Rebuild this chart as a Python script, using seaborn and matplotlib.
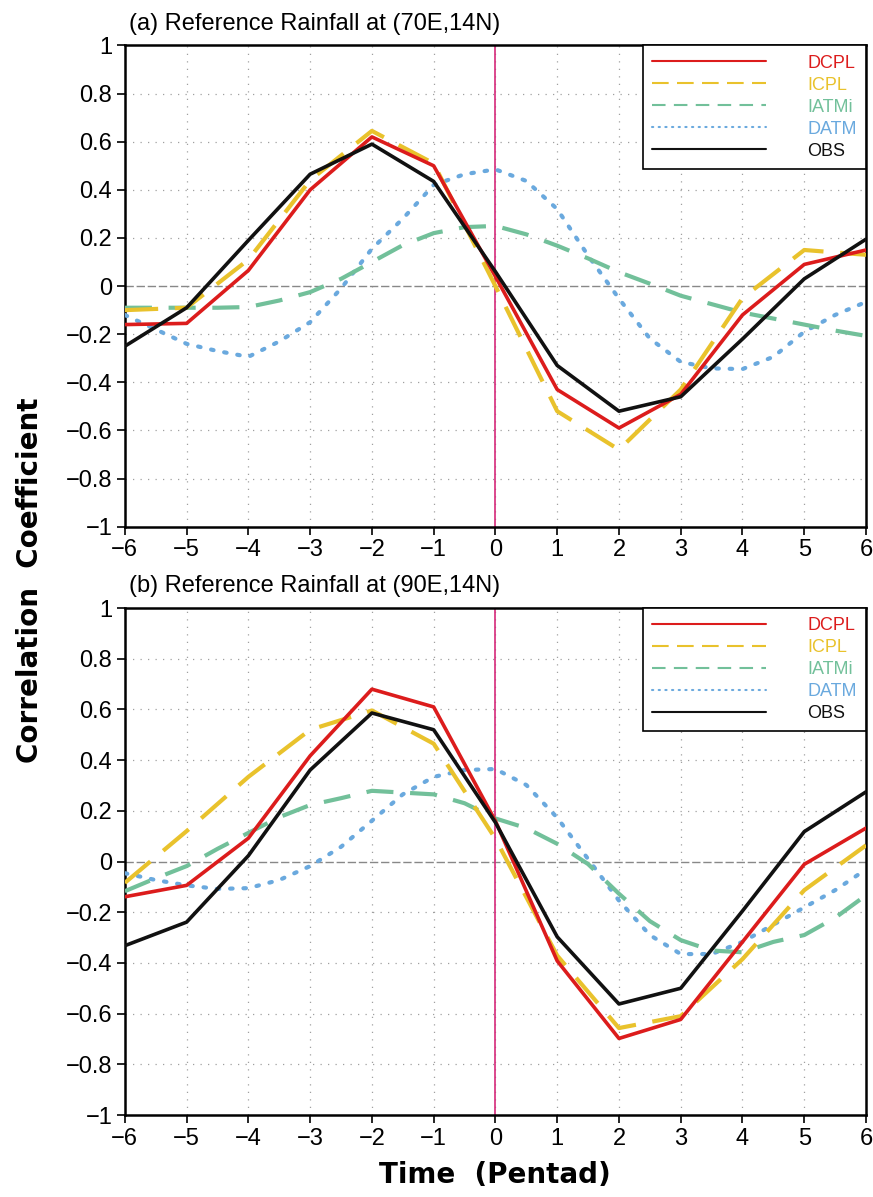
import numpy as np
import pandas as pd
import matplotlib
matplotlib.use("Agg")
import matplotlib.pyplot as plt
import seaborn as sns

# pentad lags
pentad = [-6, -5, -4, -3, -2, -1, 0, 1, 2, 3, 4, 5, 6]
half_pentad = [-6, -5.5, -5, -4.5, -4, -3.5, -3, -2.5, -2, -1.5, -1, -0.5, 0,
               0.5, 1, 1.5, 2, 2.5, 3, 3.5, 4, 4.5, 5, 5.5, 6]

# panel (a): reference rainfall at (70E,14N)
a_dcpl = [-0.16, -0.155, 0.065, 0.40, 0.62, 0.50, 0.04, -0.43, -0.59, -0.45, -0.12, 0.09, 0.15]
a_icpl = [-0.10, -0.09, 0.11, 0.44, 0.645, 0.51, 0.0, -0.52, -0.68, -0.43, -0.05, 0.15, 0.13]
a_obs = [-0.25, -0.09, 0.19, 0.465, 0.59, 0.435, 0.06, -0.33, -0.52, -0.46, -0.22, 0.03, 0.195]
a_iatmi = [-0.09, -0.09, -0.09, -0.09, -0.087, -0.06, -0.025, 0.03, 0.10, 0.17, 0.22, 0.245, 0.25,
           0.215, 0.168, 0.115, 0.058, 0.01, -0.04, -0.075, -0.11, -0.135, -0.16, -0.185, -0.207]
a_datm = [-0.12, -0.18, -0.24, -0.27, -0.294, -0.23, -0.15, -0.01, 0.155, 0.28, 0.42, 0.465, 0.485,
          0.437, 0.32, 0.127, -0.052, -0.218, -0.315, -0.342, -0.345, -0.294, -0.19, -0.12, -0.066]

# panel (b): reference rainfall at (90E,14N)
b_dcpl = [-0.139, -0.094, 0.092, 0.417, 0.68, 0.61, 0.16, -0.392, -0.698, -0.623, -0.317, -0.011, 0.132]
b_icpl = [-0.084, 0.12, 0.334, 0.52, 0.596, 0.465, 0.09, -0.371, -0.657, -0.61, -0.385, -0.113, 0.064]
b_obs = [-0.332, -0.239, 0.023, 0.361, 0.586, 0.52, 0.154, -0.297, -0.562, -0.50, -0.195, 0.118, 0.275]
b_iatmi = [-0.117, -0.066, -0.018, 0.05, 0.113, 0.175, 0.223, 0.25, 0.279, 0.272, 0.265, 0.23, 0.17,
           0.132, 0.07, -0.01, -0.127, -0.235, -0.31, -0.351, -0.358, -0.317, -0.29, -0.222, -0.133]
b_datm = [-0.046, -0.073, -0.094, -0.108, -0.105, -0.073, -0.018, 0.058, 0.161, 0.265, 0.334, 0.361, 0.365,
          0.302, 0.173, 0.01, -0.154, -0.29, -0.365, -0.365, -0.317, -0.249, -0.181, -0.113, -0.031]

titles = ["(a) Reference Rainfall at (70E,14N)", "(b) Reference Rainfall at (90E,14N)"]
names = ["DCPL", "ICPL", "IATMi", "DATM", "OBS"]
colors = {"DCPL": "#dc1c1c", "ICPL": "#e9c22c", "IATMi": "#72c09a", "DATM": "#6aa9de", "OBS": "#111111"}
styles = {"DCPL": (None, 2.6), "ICPL": ((8, 4), 3.0), "IATMi": ((6.5, 4), 3.0),
          "DATM": ((0.6, 2.6), 3.0), "OBS": (None, 2.6)}

sns.set_style("white")
plt.rcParams["font.family"] = ["Liberation Sans", "DejaVu Sans"]
plt.rcParams["text.color"] = "black"
plt.rcParams["xtick.color"] = "black"
plt.rcParams["ytick.color"] = "black"

fig = plt.figure(figsize=(8.73, 11.97), dpi=100)
ax_a = fig.add_axes([0.143, 0.560, 0.849, 0.402])
ax_b = fig.add_axes([0.143, 0.0685, 0.849, 0.4235])

panels = [
    (ax_a, {"DCPL": a_dcpl, "ICPL": a_icpl, "IATMi": a_iatmi, "DATM": a_datm, "OBS": a_obs}),
    (ax_b, {"DCPL": b_dcpl, "ICPL": b_icpl, "IATMi": b_iatmi, "DATM": b_datm, "OBS": b_obs}),
]

for i, (ax, series) in enumerate(panels):
    # dotted grid first so the lines sit on top
    for xv in pentad[1:-1]:
        ax.axvline(xv, color="#a0a0a0", lw=0.9, ls=(0, (1, 5)), zorder=0)
    for yv in np.arange(-0.8, 0.81, 0.2):
        if abs(yv) > 1e-6:
            ax.axhline(yv, color="#a0a0a0", lw=0.9, ls=(0, (1, 5)), zorder=0)
    ax.axhline(0, color="#888888", lw=1.0, ls=(0, (6, 2)), zorder=1)
    ax.axvline(0, color="#d62a7a", lw=1.2, zorder=1)

    for name in ["DATM", "IATMi", "ICPL", "DCPL", "OBS"]:
        vals = series[name]
        xs = half_pentad if len(vals) == len(half_pentad) else pentad
        df = pd.DataFrame({"x": xs, "y": vals})
        dash, lw = styles[name]
        sns.lineplot(data=df, x="x", y="y", ax=ax, color=colors[name], lw=lw,
                     label=name, zorder=3)
        line = ax.get_lines()[-1]
        if dash is not None:
            line.set_dashes(dash)
        if name == "DATM":
            line.set_dash_capstyle("round")

    ax.set_xlim(-6, 6)
    ax.set_ylim(-1, 1)
    ax.set_xticks(pentad)
    ax.set_xticklabels([str(p).replace("-", "\u2212") for p in pentad])
    yt = np.round(np.arange(-1, 1.01, 0.2), 1)
    ax.set_yticks(yt)
    ax.set_yticklabels(["0" if abs(v) < 1e-9 else ("%g" % v).replace("-", "\u2212") for v in yt])
    ax.tick_params(axis="both", labelsize=17, direction="out", length=6, width=1.2,
                   left=True, bottom=True, pad=3, colors="black")
    ax.set_xlabel("")
    ax.set_ylabel("")
    for sp in ax.spines.values():
        sp.set_linewidth(1.8)
        sp.set_color("black")
    ax.text(0.005, 1.022, titles[i], transform=ax.transAxes, fontsize=17, ha="left", va="bottom")

    # legend box tucked in the top right corner, labels coloured like the lines
    handles, labels = ax.get_legend_handles_labels()
    order = [labels.index(n) for n in names]
    leg = ax.legend([handles[k] for k in order], names, loc="upper right",
                    bbox_to_anchor=(1.0, 1.0), borderaxespad=0.0, frameon=True, fancybox=False,
                    framealpha=1, edgecolor="black", handlelength=6.3,
                    handletextpad=2.3, borderpad=0.5, labelspacing=0.28,
                    prop={"family": "Liberation Sans", "size": 13})
    leg.get_frame().set_linewidth(1.2)
    for txt, n in zip(leg.get_texts(), names):
        txt.set_color(colors[n])
    for lh in leg.get_lines():
        lh.set_linewidth(1.5)

fig.text(0.034, 0.515, "Correlation  Coefficient", rotation=90, fontsize=20,
         fontweight="bold", ha="center", va="center", family=["DejaVu Sans"])
fig.text(0.567, 0.018, "Time  (Pentad)", fontsize=20, fontweight="bold",
         ha="center", va="center", family=["DejaVu Sans"])

fig.savefig("out.png", dpi=100)
